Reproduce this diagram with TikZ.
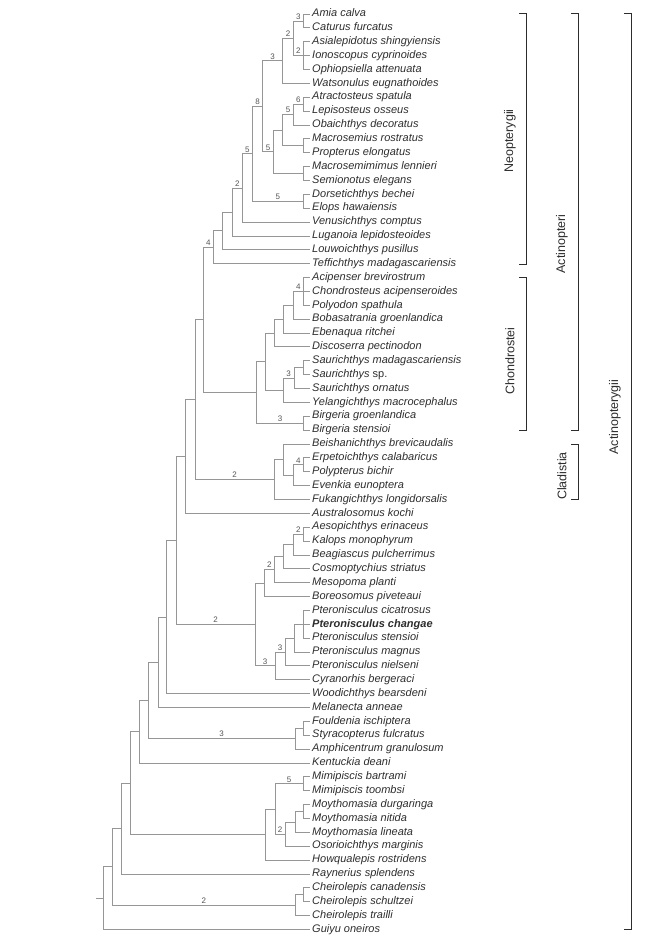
\documentclass[tikz,border=0pt]{standalone}
\usepackage{fontspec}
\setmainfont{Liberation Sans}
\usetikzlibrary{calc}
\definecolor{branchgray}{RGB}{150,150,150}
\definecolor{inkgray}{RGB}{45,45,45}
\definecolor{labelgray}{RGB}{85,85,85}

% clade: name, x, upper child, lower child
\newcommand{\clade}[4]{%
  \path let \p1=(#3), \p2=(#4) in (#2pt,{0.5*(\y1+\y2)}) coordinate (#1);
  \draw[branch] (#1) |- (#3);
  \draw[branch] (#1) |- (#4);
}
% clade with three children
\newcommand{\cladeiii}[5]{%
  \path let \p1=(#3), \p2=(#5) in (#2pt,{0.5*(\y1+\y2)}) coordinate (#1);
  \draw[branch] (#1) |- (#3);
  \draw[branch] (#1) |- (#4);
  \draw[branch] (#1) |- (#5);
}

\begin{document}
\begin{tikzpicture}[x=1pt,y=-1pt]
\tikzstyle{taxon}=[anchor=west,inner sep=2pt,text=inkgray,text height=8pt,text depth=2.5pt,font=\fontsize{11}{13}\selectfont\itshape]
\tikzstyle{branch}=[draw=branchgray,line width=0.8pt]
\tikzstyle{bremer}=[above,inner sep=1.5pt,text=labelgray,font=\fontsize{8}{9}\selectfont]
\tikzstyle{groupbar}=[draw=inkgray,line width=0.7pt]
\tikzstyle{grouplabel}=[rotate=90,inner sep=0pt,text=inkgray,font=\fontsize{12.5}{14}\selectfont]

\useasboundingbox (0,0) rectangle (654,940);

% terminal taxa
\foreach \nm/\txt [count=\i] in {
  amia/Amia calva, caturus/Caturus furcatus, asialep/Asialepidotus shingyiensis,
  ionosc/Ionoscopus cyprinoides, ophiop/Ophiopsiella attenuata, watson/Watsonulus eugnathoides,
  atract/Atractosteus spatula, lepis/Lepisosteus osseus, obaich/Obaichthys decoratus,
  macrosem/Macrosemius rostratus, propt/Propterus elongatus, macrosemim/Macrosemimimus lennieri,
  semion/Semionotus elegans, dorset/Dorsetichthys bechei, elops/Elops hawaiensis,
  venus/Venusichthys comptus, lugan/Luganoia lepidosteoides, louwo/Louwoichthys pusillus,
  teffi/Teffichthys madagascariensis, acip/Acipenser brevirostrum, chondro/Chondrosteus acipenseroides,
  polyo/Polyodon spathula, bobas/Bobasatrania groenlandica, ebena/Ebenaqua ritchei,
  disco/Discoserra pectinodon, saurmad/Saurichthys madagascariensis, saursp/{Saurichthys \upshape sp.},
  saurorn/Saurichthys ornatus, yelang/Yelangichthys macrocephalus, birgg/Birgeria groenlandica,
  birgs/Birgeria stensioi, beishan/Beishanichthys brevicaudalis, erpeto/Erpetoichthys calabaricus,
  polypt/Polypterus bichir, evenk/Evenkia eunoptera, fukang/Fukangichthys longidorsalis,
  austral/Australosomus kochi, aesop/Aesopichthys erinaceus, kalops/Kalops monophyrum,
  beagi/Beagiascus pulcherrimus, cosmo/Cosmoptychius striatus, mesop/Mesopoma planti,
  boreo/Boreosomus piveteaui, ptcic/Pteronisculus cicatrosus, ptchang/\textbf{Pteronisculus changae},
  ptsten/Pteronisculus stensioi, ptmag/Pteronisculus magnus, ptniel/Pteronisculus nielseni,
  cyran/Cyranorhis bergeraci, woodi/Woodichthys bearsdeni, melan/Melanecta anneae,
  fould/Fouldenia ischiptera, styrac/Styracopterus fulcratus, amphi/Amphicentrum granulosum,
  kentu/Kentuckia deani, mimib/Mimipiscis bartrami, mimit/Mimipiscis toombsi,
  moyd/Moythomasia durgaringa, moyn/Moythomasia nitida, moyl/Moythomasia lineata,
  osori/Osorioichthys marginis, howq/Howqualepis rostridens, rayn/Raynerius splendens,
  cheic/Cheirolepis canadensis, cheis/Cheirolepis schultzei, cheit/Cheirolepis trailli,
  guiyu/Guiyu oneiros}
  \node[taxon] (\nm) at (310,{14+(\i-1)*13.87}) {\txt};

% Neopterygii
\clade{n1}{303.3}{amia}{caturus}
\cladeiii{n2}{303.3}{asialep}{ionosc}{ophiop}
\clade{n3}{293.3}{n1}{n2}
\clade{n4}{282.7}{n3}{watson}
\clade{n5}{303.3}{atract}{lepis}
\clade{n6}{293.3}{n5}{obaich}
\clade{n7}{303.3}{macrosem}{propt}
\clade{n8}{282.7}{n6}{n7}
\clade{n9}{303.3}{macrosemim}{semion}
\clade{n10}{273.3}{n8}{n9}
\clade{n11}{262.7}{n4}{n10}
\clade{n12}{303.3}{dorset}{elops}
\clade{n13}{252.3}{n11}{n12}
\clade{n14}{242.3}{n13}{venus}
\clade{n15}{232.3}{n14}{lugan}
\clade{n16}{222.7}{n15}{louwo}
\clade{n17}{213.3}{n16}{teffi}

% Chondrostei
\cladeiii{c1}{303.3}{acip}{chondro}{polyo}
\clade{c2}{293.3}{c1}{bobas}
\clade{c3}{283.5}{c2}{ebena}
\clade{c4}{274}{c3}{disco}
\clade{s1}{303.3}{saurmad}{saursp}
\clade{s2}{294}{s1}{saurorn}
\clade{s3}{283.3}{s2}{yelang}
\clade{c5}{265.7}{c4}{s3}
\clade{b1}{303.3}{birgg}{birgs}
\clade{c6}{256.7}{c5}{b1}
\clade{act}{203.3}{n17}{c6}

% Cladistia
\clade{k1}{303.3}{erpeto}{polypt}
\clade{k2}{293.3}{k1}{evenk}
\clade{k3}{283.3}{beishan}{k2}
\clade{k4}{274.3}{k3}{fukang}
\clade{a195}{195}{act}{k4}
\clade{a185}{185}{a195}{austral}

% Pteronisculus and allies
\clade{p1}{303.3}{aesop}{kalops}
\clade{p2}{293.3}{p1}{beagi}
\clade{p3}{283.3}{p2}{cosmo}
\clade{p4}{274.3}{p3}{mesop}
\clade{p5}{264.3}{p4}{boreo}
\cladeiii{q1}{303.3}{ptcic}{ptchang}{ptsten}
\clade{q2}{294.3}{q1}{ptmag}
\clade{q3}{285}{q2}{ptniel}
\clade{q4}{275}{q3}{cyran}
\clade{p6}{255}{p5}{q4}
\clade{a176}{176}{a185}{p6}
\clade{a167}{166.7}{a176}{woodi}
\clade{a158}{158.3}{a167}{melan}
\clade{f1}{303.3}{fould}{styrac}
\clade{f2}{295}{f1}{amphi}
\clade{a148}{148.3}{a158}{f2}
\clade{a139}{139.3}{a148}{kentu}

% Devonian stem taxa
\clade{m1}{303.3}{mimib}{mimit}
\clade{y1}{303.3}{moyd}{moyn}
\clade{y2}{295}{y1}{moyl}
\clade{y3}{285}{y2}{osori}
\clade{m2}{275}{m1}{y3}
\clade{m3}{265}{m2}{howq}
\clade{a130}{130}{a139}{m3}
\clade{a121}{121.7}{a130}{rayn}
\clade{ch1}{303.3}{cheic}{cheis}
\clade{ch2}{295}{ch1}{cheit}
\clade{a112}{112.7}{a121}{ch2}
\clade{root}{103.3}{a112}{guiyu}
\coordinate (base) at ($(root)+(-7pt,0pt)$);
\draw[branch] (base) -- (root);

% Bremer support
\foreach \p/\c/\v in {n3/n1/3, n3/n2/2, n4/n3/2, n11/n4/3, n6/n5/6, n8/n6/5, n11/n10/5,
  n13/n11/8, n13/n12/5, n14/n13/5, n15/n14/2, act/n17/4, c2/c1/4, s3/s2/3, c6/b1/3,
  k2/k1/4, a195/k4/2, p2/p1/2, p5/p4/2, q4/q3/3, p6/q4/3, a176/p6/2, a148/f2/3,
  m2/m1/5, m2/y3/2, a112/ch2/2}
  \path (\p |- \c) -- (\c) node[midway,bremer] {\v};

% group brackets
\draw[groupbar] (519,13) -- (526,13) -- (526,264) -- (519,264);
\node[grouplabel] (neo) at (510,141) {Neopterygii};
\draw[groupbar] (519,277.5) -- (526,277.5) -- (526,430) -- (519,430);
\node[grouplabel] (chon) at (510,361) {Chondrostei};
\draw[groupbar] (571,13) -- (578,13) -- (578,430) -- (571,430);
\node[grouplabel] (acti) at (562,244) {Actinopteri};
\draw[groupbar] (571,444) -- (578,444) -- (578,499.4) -- (571,499.4);
\node[grouplabel] (clad) at (562,476) {Cladistia};
\draw[groupbar] (624,13) -- (631,13) -- (631,929.4) -- (624,929.4);
\node[grouplabel] (actg) at (615,417) {Actinopterygii};

\end{tikzpicture}
\end{document}
